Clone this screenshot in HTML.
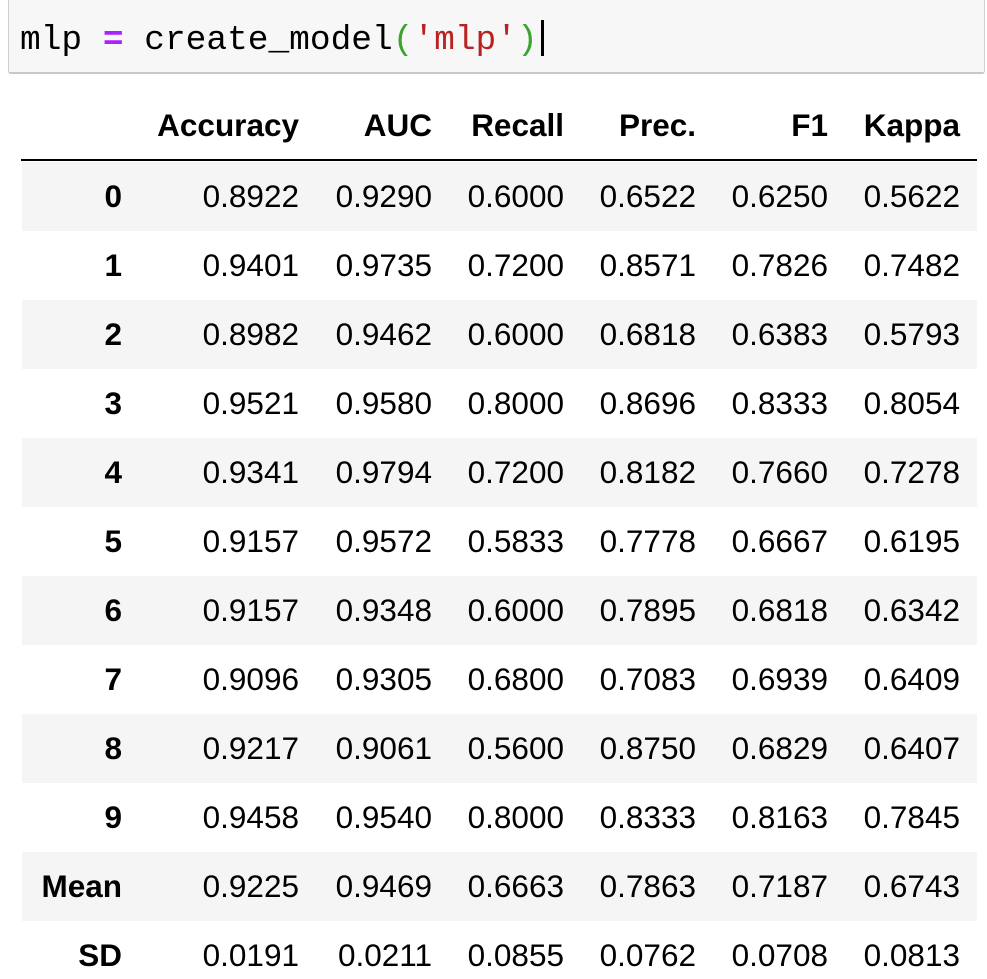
<!DOCTYPE html>
<html><head><meta charset="utf-8"><style>
html,body{margin:0;padding:0;background:#fff;width:987px;height:979px;overflow:hidden;position:relative}
.code{position:absolute;left:8px;top:-4px;width:977px;height:78px;background:#f7f7f7;border:1px solid #cfcfcf;border-bottom:2px solid #c8c8c8;border-radius:3px;box-sizing:border-box}
.codet{position:absolute;left:20px;top:19px;font-family:"Liberation Mono",monospace;font-size:34.5px;line-height:44px;color:#000;white-space:pre}
.cur{display:inline-block;width:3px;height:36px;background:#000;vertical-align:-7px;margin-left:3px}
.row{position:absolute;left:22px;width:955px;height:69px}
.c{position:absolute;top:0;height:69px;line-height:69px;font-family:"Liberation Sans",Arial,sans-serif;font-size:31.5px;color:#000;text-align:right;white-space:nowrap}
.b{font-weight:bold}
.line{position:absolute;left:21px;top:159px;width:956px;height:2px;background:#000}
</style></head><body>
<div class="code"></div>
<div class="codet">mlp <span style="color:#aa22ff;font-weight:bold">=</span> create_model<span style="color:#3aa52e">(</span><span style="color:#ba2121">'mlp'</span><span style="color:#3aa52e">)</span><span class="cur"></span></div>
<div class="line"></div>
<div id="t"></div>
<script>
var rights=[100,277,410,542,674,806,938];
var rows=[["","Accuracy","AUC","Recall","Prec.","F1","Kappa"],
["0","0.8922","0.9290","0.6000","0.6522","0.6250","0.5622"],
["1","0.9401","0.9735","0.7200","0.8571","0.7826","0.7482"],
["2","0.8982","0.9462","0.6000","0.6818","0.6383","0.5793"],
["3","0.9521","0.9580","0.8000","0.8696","0.8333","0.8054"],
["4","0.9341","0.9794","0.7200","0.8182","0.7660","0.7278"],
["5","0.9157","0.9572","0.5833","0.7778","0.6667","0.6195"],
["6","0.9157","0.9348","0.6000","0.7895","0.6818","0.6342"],
["7","0.9096","0.9305","0.6800","0.7083","0.6939","0.6409"],
["8","0.9217","0.9061","0.5600","0.8750","0.6829","0.6407"],
["9","0.9458","0.9540","0.8000","0.8333","0.8163","0.7845"],
["Mean","0.9225","0.9469","0.6663","0.7863","0.7187","0.6743"],
["SD","0.0191","0.0211","0.0855","0.0762","0.0708","0.0813"]];
var h="";
rows.forEach(function(r,i){
 var top=i==0?91:162+69*(i-1);
 var bg=(i>0&&(i%2==1))?"background:#f5f5f5;":"";
 h+='<div class="row" style="top:'+top+'px;'+bg+'">';
 r.forEach(function(v,j){
  var bold=(i==0||j==0)?" b":"";
  h+='<div class="c'+bold+'" style="right:'+(955-rights[j])+'px">'+v+'</div>';
 });
 h+='</div>';
});
document.getElementById("t").innerHTML=h;
</script>
</body></html>
